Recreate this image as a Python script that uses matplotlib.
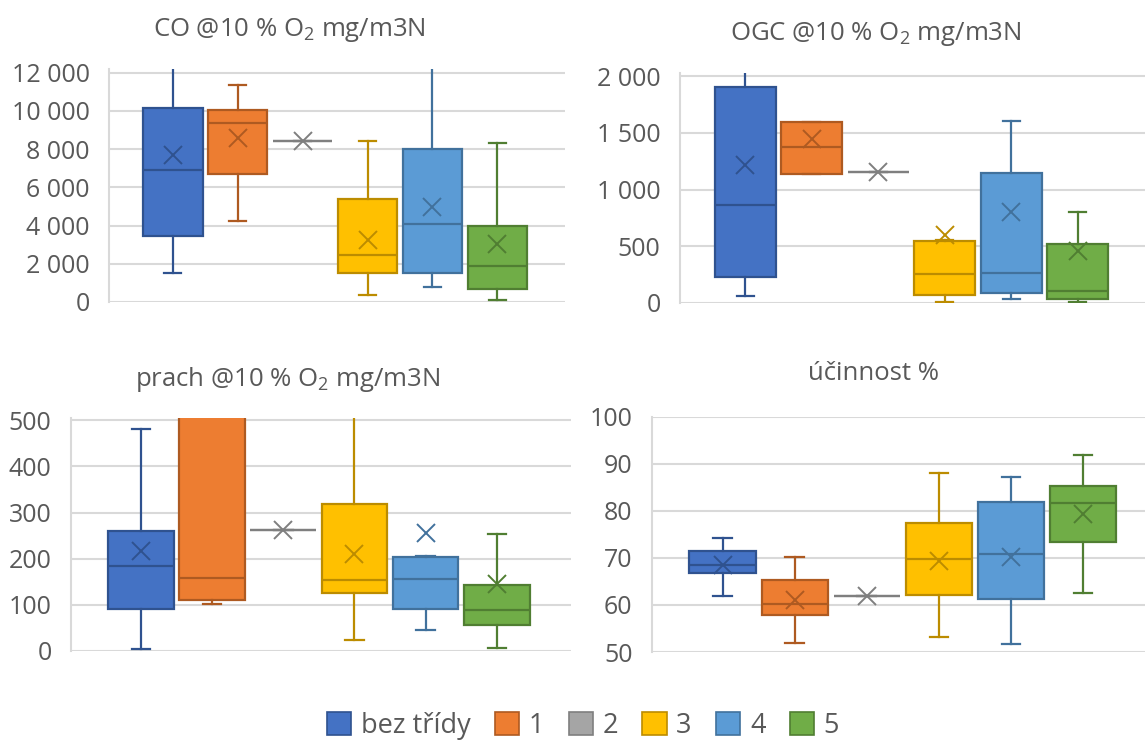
import matplotlib
matplotlib.use("Agg")
import matplotlib.pyplot as plt
from matplotlib.patches import Patch
from matplotlib.ticker import FuncFormatter, MultipleLocator

plt.rcParams['font.family'] = ['Open Sans', 'DejaVu Sans']
plt.rcParams['mathtext.default'] = 'regular'

# kategorie (třídy kotlů)
groups = ['bez třídy', '1', '2', '3', '4', '5']
fill_colors = ['#4472C4', '#ED7D31', '#A5A5A5', '#FFC000', '#5B9BD5', '#70AD47']
edge_colors = ['#2F528F', '#AE5A21', '#7F7F7F', '#BC8C00', '#41719C', '#507E32']

# CO @10 % O2 mg/m3N
co_low = [1500, 4260, 8420, 380, 760, 90]
co_q1 = [3460, 6700, 8420, 1510, 1510, 700]
co_med = [6900, 9370, 8420, 2470, 4070, 1880]
co_q3 = [10170, 10050, 8420, 5390, 8030, 3980]
co_high = [12600, 11350, 8420, 8430, 12600, 8330]
co_mean = [7720, 8560, 8420, 3240, 4990, 3010]

# OGC @10 % O2 mg/m3N
ogc_low = [62, 1134, 1155, 6, 32, 3]
ogc_q1 = [227, 1134, 1155, 71, 82, 29]
ogc_med = [866, 1378, 1155, 253, 265, 106]
ogc_q3 = [1903, 1594, 1155, 542, 1146, 515]
ogc_high = [2100, 1594, 1155, 556, 1608, 798]
ogc_mean = [1214, 1443, 1155, 601, 801, 459]

# prach @10 % O2 mg/m3N
prach_low = [4, 101, 262, 24, 46, 7]
prach_q1 = [91, 110, 262, 126, 92, 56]
prach_med = [184, 158, 262, 154, 156, 89]
prach_q3 = [259, 620, 262, 318, 204, 142]
prach_high = [481, 900, 262, 560, 206, 254]
prach_mean = [216, 610, 262, 210, 256, 145]

# účinnost %
ucin_low = [62.0, 52.0, 61.8, 53.2, 51.8, 62.5]
ucin_q1 = [66.7, 57.9, 61.8, 62.2, 61.3, 73.4]
ucin_med = [68.4, 60.1, 61.8, 69.8, 70.9, 81.7]
ucin_q3 = [71.4, 65.3, 61.8, 77.4, 81.9, 85.2]
ucin_high = [74.3, 70.1, 61.8, 88.1, 87.2, 91.8]
ucin_mean = [68.4, 61.0, 61.8, 69.3, 70.1, 79.3]

TEXT = '#595959'
GRID = '#D9D9D9'
W, H = 1145, 743


def make_stats(low, q1, med, q3, high, mean):
    return [dict(whislo=a, q1=b, med=c, q3=d, whishi=e, mean=f, fliers=[])
            for a, b, c, d, e, f in zip(low, q1, med, q3, high, mean)]


def thousands(v, pos):
    return f"{v:,.0f}".replace(",", " ")


def draw_panel(rect, stats, ylim, step, title, title_xy):
    # rect v pixelech: levý okraj, pravý okraj, horní, dolní
    x0, x1, ytop, ybot = rect
    ax = fig.add_axes([x0 / W, 1 - ybot / H, (x1 - x0) / W, (ybot - ytop) / H])
    pos = list(range(len(stats)))
    for i, st in enumerate(stats):
        ec = edge_colors[i]
        ax.bxp([st], positions=[pos[i]], widths=0.92, capwidths=0.26,
               patch_artist=True, showmeans=True, showfliers=False,
               boxprops=dict(facecolor=fill_colors[i], edgecolor=ec, linewidth=1.6),
               medianprops=dict(color=ec, linewidth=1.6),
               whiskerprops=dict(color=ec, linewidth=1.6),
               capprops=dict(color=ec, linewidth=1.6),
               meanprops=dict(marker='x', markeredgecolor=ec, markersize=13,
                              markeredgewidth=1.4))
    ax.set_xlim(-0.98, 6.04)
    ax.set_ylim(*ylim)
    ax.yaxis.set_major_locator(MultipleLocator(step))
    ax.yaxis.set_major_formatter(FuncFormatter(thousands))
    ax.grid(axis='y', color=GRID, linewidth=1.5)
    ax.set_axisbelow(True)
    for s in ['top', 'right', 'bottom']:
        ax.spines[s].set_visible(False)
    ax.spines['left'].set_color(GRID)
    ax.spines['left'].set_linewidth(1.5)
    ax.set_xticks([])
    ax.tick_params(axis='y', length=0, pad=14, labelsize=18, labelcolor=TEXT)
    fig.text(title_xy[0] / W, 1 - title_xy[1] / H, title, ha='center', va='center',
             fontsize=18.5, color=TEXT)
    return ax


fig = plt.figure(figsize=(W / 100, H / 100), dpi=100)

draw_panel((109, 565, 69.3, 302), make_stats(co_low, co_q1, co_med, co_q3, co_high, co_mean),
           (0, 12180), 2000, 'CO @10 % O$_2$ mg/m3N', (289, 30))
draw_panel((680, 1147, 73.3, 302.7), make_stats(ogc_low, ogc_q1, ogc_med, ogc_q3, ogc_high, ogc_mean),
           (0, 2027), 500, 'OGC @10 % O$_2$ mg/m3N', (876, 34))
draw_panel((71, 571, 417.7, 651), make_stats(prach_low, prach_q1, prach_med, prach_q3, prach_high, prach_mean),
           (0, 505.6), 100, 'prach @10 % O$_2$ mg/m3N', (288, 379))
draw_panel((652, 1158, 416.7, 652), make_stats(ucin_low, ucin_q1, ucin_med, ucin_q3, ucin_high, ucin_mean),
           (50, 100), 10, 'účinnost %', (874, 373))

handles = [Patch(facecolor=fc, edgecolor=ec, linewidth=1.2) for fc, ec in zip(fill_colors, edge_colors)]
fig.legend(handles, groups, loc='center', bbox_to_anchor=(583 / W, 1 - 726 / H), ncol=6,
           frameon=False, fontsize=19.5, labelcolor=TEXT, handlelength=0.9, handleheight=0.9,
           handletextpad=0.35, columnspacing=0.9)

fig.savefig('out.png', dpi=100)
